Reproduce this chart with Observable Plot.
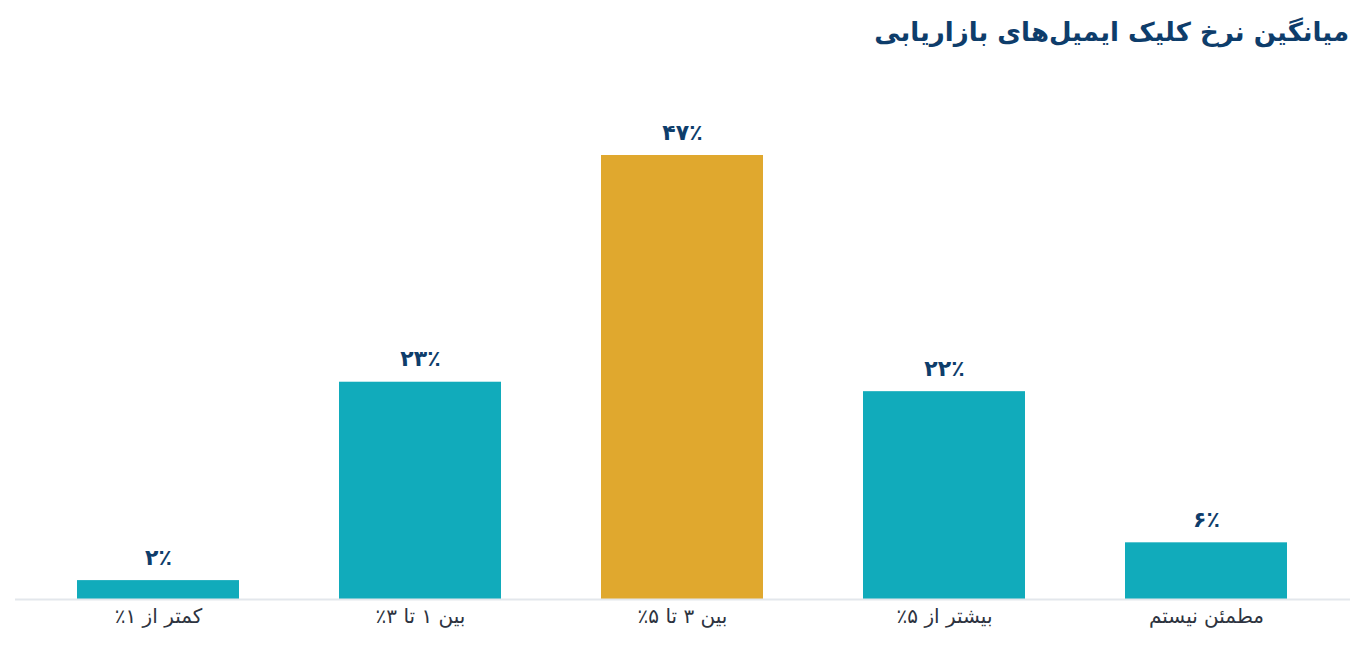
<!DOCTYPE html>
<html lang="fa">
<head>
<meta charset="utf-8">
<script src="https://cdn.jsdelivr.net/npm/d3@7"></script>
<script src="https://cdn.jsdelivr.net/npm/@observablehq/plot@0.6"></script>
<style>
  html, body { margin: 0; padding: 0; background: #fff; }
  body { width: 1365px; height: 645px; overflow: hidden; font-family: "DejaVu Sans", "Noto Sans", sans-serif; }
  #title { height: 70px; box-sizing: border-box; padding: 14px 16px 0 0; direction: rtl; text-align: right;
           font-size: 26px; font-weight: bold; color: #0e3d6b; line-height: 36px; }
  #chart svg text { direction: rtl; unicode-bidi: embed; }
</style>
</head>
<body>
<div id="title">میانگین نرخ کلیک ایمیل‌های بازاریابی</div>
<div id="chart"></div>
<script>
const categories = ["کمتر از ۱٪", "بین ۱ تا ۳٪", "بین ۳ تا ۵٪", "بیشتر از ۵٪", "مطمئن نیستم"];
const values = [2, 23, 47, 22, 6];
const valueLabels = ["۲٪", "۲۳٪", "۴۷٪", "۲۲٪", "۶٪"];
const highlight = "بین ۳ تا ۵٪";

const data = categories.map((c, i) => ({category: c, value: values[i], label: valueLabels[i]}));

const chart = Plot.plot({
  width: 1365,
  height: 575,
  marginLeft: 15,
  marginRight: 15,
  marginTop: 85,
  marginBottom: 46,
  style: {fontFamily: "'DejaVu Sans', sans-serif", background: "#fff"},
  x: {domain: categories, paddingInner: 0.38, paddingOuter: 0.232, label: null},
  y: {domain: [0, 47], axis: null},
  marks: [
    Plot.barY(data, {x: "category", y: "value", fill: d => d.category === highlight ? "#e0a82e" : "#11abbb"}),
    Plot.ruleY([0], {stroke: "#e3e7ec", strokeWidth: 2}),
    Plot.text(data, {x: "category", y: "value", text: "label", dy: -23, fontSize: 22, fontWeight: "bold", fill: "#0e3d6b"}),
    Plot.axisX({tickSize: 0, tickPadding: 9, fontSize: 20, color: "#2d3340", label: null})
  ]
});
document.getElementById("chart").appendChild(chart);
</script>
</body>
</html>
